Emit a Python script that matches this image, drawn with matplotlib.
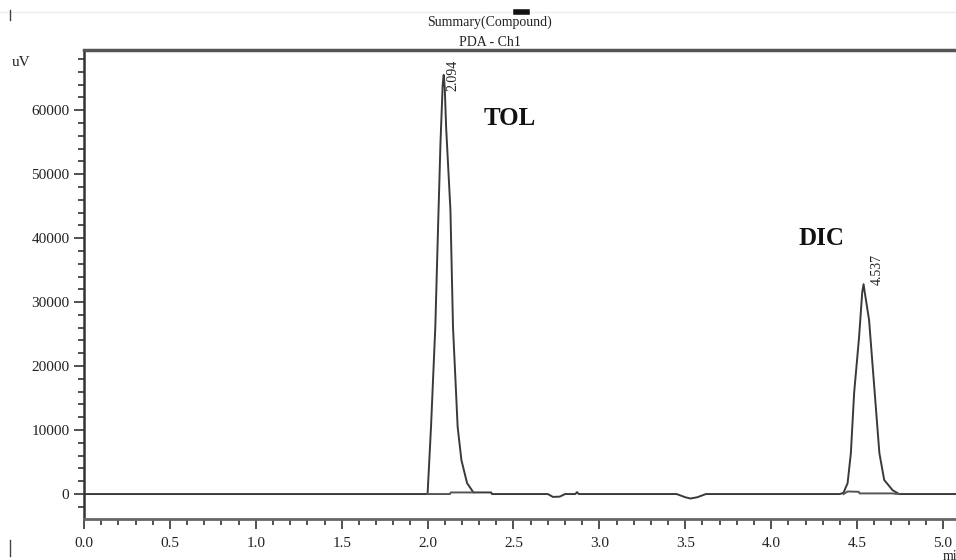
import matplotlib
matplotlib.use("Agg")
import matplotlib.pyplot as plt
from matplotlib.ticker import MultipleLocator
from matplotlib.lines import Line2D

plt.rcParams['font.family'] = ['Liberation Serif', 'DejaVu Serif']

# chromatogram trace (min, uV)
time = [0.0, 1.98, 2.0, 2.02, 2.045, 2.061, 2.075, 2.088, 2.094, 2.100, 2.108,
        2.133, 2.148, 2.175, 2.197, 2.23, 2.267, 2.37, 2.375, 2.70, 2.73, 2.77,
        2.80, 2.86, 2.87, 2.88, 3.45, 3.50, 3.53, 3.57, 3.62, 4.40, 4.421,
        4.445, 4.464, 4.483, 4.512, 4.530, 4.538, 4.545, 4.57, 4.60, 4.63,
        4.658, 4.707, 4.745, 5.08]
signal = [0, 0, 0, 10500, 26100, 41700, 54800, 64000, 65500, 63500, 57300,
          44400, 26100, 10500, 5300, 1700, 250, 250, 0, 0, -450, -400,
          0, 0, 300, 0, 0, -500, -700, -500, 0, 0, 200,
          1700, 6400, 15800, 24600, 31500, 32800, 31500, 27200, 16800, 6400,
          2200, 600, 0, 0]

# integration baselines under the peaks
base1_t = [2.0, 2.13, 2.135, 2.267]
base1_y = [0, 0, 250, 250]
base2_t = [4.421, 4.445, 4.51, 4.515, 4.70, 4.745]
base2_y = [0, 400, 350, 100, 100, 0]

peak_rt = [2.094, 4.537]
peak_lbl_pos = [(2.145, 63000), (4.62, 32700)]
names = ['TOL', 'DIC']
name_pos = [(2.48, 58700), (4.295, 40000)]

fig = plt.figure(figsize=(9.56, 5.6), dpi=100)
ax = fig.add_axes([84/956, 1-519/560, (956-84)/956, (519-50)/560])

ax.plot(time, signal, color='#3a3a3a', lw=1.4)
ax.plot(base1_t, base1_y, color='#555555', lw=1.4)
ax.plot(base2_t, base2_y, color='#555555', lw=1.4)

for rt, (px, py) in zip(peak_rt, peak_lbl_pos):
    ax.text(px, py, f'{rt:.3f}', rotation=90, ha='center', va='bottom',
            fontsize=10, color='#222222')
for nm, (nx, ny) in zip(names, name_pos):
    ax.text(nx, ny, nm, ha='center', va='center', fontsize=18,
            fontweight='bold', color='#111111')

ax.set_xlim(0, 5.076)
ax.set_ylim(-3900, 69400)
ax.xaxis.set_major_locator(MultipleLocator(0.5))
ax.xaxis.set_minor_locator(MultipleLocator(0.1))
ax.yaxis.set_major_locator(MultipleLocator(10000))
ax.yaxis.set_minor_locator(MultipleLocator(2000))
ax.xaxis.set_major_formatter(plt.FuncFormatter(lambda v, p: f'{v:.1f}'))
ax.tick_params(axis='both', which='major', labelsize=11, length=7,
               width=1.2, color='#333333', labelcolor='#222222')
ax.tick_params(axis='both', which='minor', length=4, width=1.2, color='#333333')
ax.tick_params(axis='x', pad=6)

ax.spines['right'].set_visible(False)
ax.spines['top'].set_linewidth(2.5)
ax.spines['top'].set_color('#555555')
ax.spines['left'].set_linewidth(1.8)
ax.spines['left'].set_color('#333333')
ax.spines['bottom'].set_linewidth(2.0)
ax.spines['bottom'].set_color('#666666')

fig.text(490/956, 1-22/560, 'Summary(Compound)', ha='center', va='center',
         fontsize=10, color='#222222')
fig.text(490/956, 1-42/560, 'PDA - Ch1', ha='center', va='center',
         fontsize=10, color='#222222')
fig.text(12/956, 1-62/560, 'uV', ha='left', va='center', fontsize=11,
         color='#222222')
fig.text(943/956, 1-556/560, 'min', ha='left', va='center', fontsize=10,
         color='#222222')

# scan artifacts
fig.add_artist(Line2D([0, 1], [1-12/560, 1-12/560], color='#eeeeee', lw=1))
fig.add_artist(Line2D([10/956, 10/956], [1-10/560, 1-20/560], color='#444444', lw=1))
fig.add_artist(Line2D([10/956, 10/956], [1-540/560, 1-556/560], color='#444444', lw=1))
fig.add_artist(Line2D([516/956, 527/956], [1-12/560, 1-12/560], color='#111111', lw=4))

fig.savefig('out.png', dpi=100)
